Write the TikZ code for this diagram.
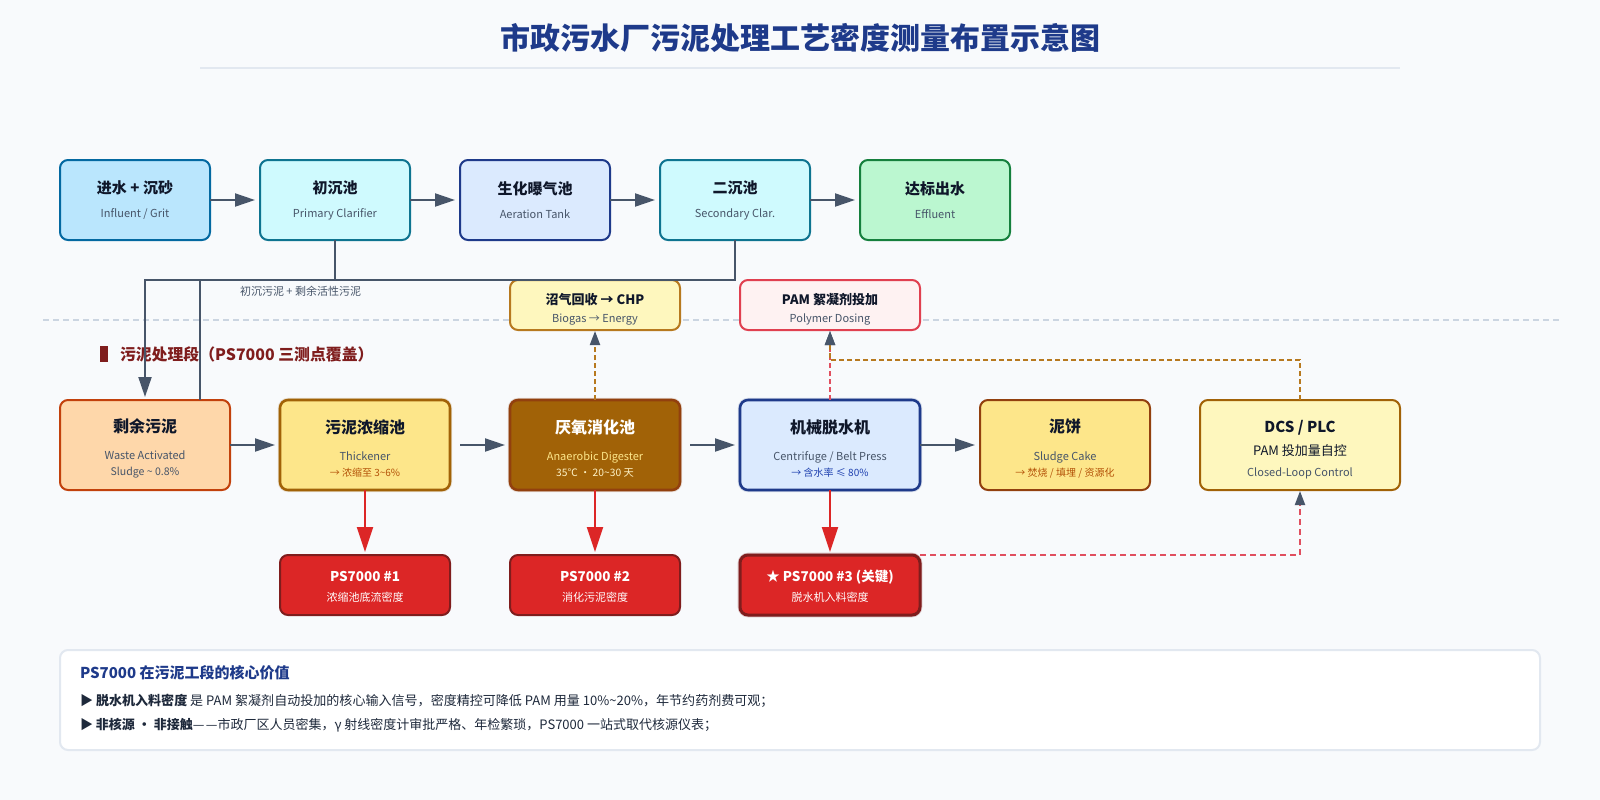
\documentclass[tikz,border=0pt]{standalone}
\usepackage{fontspec}
\setmainfont{Noto Sans CJK SC}
\usetikzlibrary{arrows.meta}
\definecolor{bgc}{HTML}{F8FAFC}
\definecolor{slate}{HTML}{475569}
\definecolor{ink}{HTML}{0F172A}
\definecolor{navy}{HTML}{1E3A8A}
\definecolor{rulec}{HTML}{E2E8F0}
\definecolor{sepc}{HTML}{CBD5E1}
\definecolor{redc}{HTML}{DC2626}
\definecolor{dred}{HTML}{7F1D1D}
\definecolor{redd}{HTML}{E04F5F}
\definecolor{orgd}{HTML}{B7791F}
\definecolor{body}{HTML}{1E293B}
\definecolor{skyF}{HTML}{BAE6FD}
\definecolor{skyD}{HTML}{0369A1}
\definecolor{cyanF}{HTML}{CFFAFE}
\definecolor{cyanD}{HTML}{0E7490}
\definecolor{blueF}{HTML}{DBEAFE}
\definecolor{greenF}{HTML}{BBF7D0}
\definecolor{greenD}{HTML}{15803D}
\definecolor{yelF}{HTML}{FEF7BE}
\definecolor{pinkF}{HTML}{FEF2F2}
\definecolor{pinkD}{HTML}{E04050}
\definecolor{orF}{HTML}{FED7AA}
\definecolor{orD}{HTML}{C2410C}
\definecolor{amF}{HTML}{FDE68A}
\definecolor{amD}{HTML}{A16207}
\definecolor{brD}{HTML}{92400E}
\newcommand\fzT{\fontsize{11.25pt}{19.5pt}\selectfont\bfseries\color{ink}}
\newcommand\fzB{\fontsize{12pt}{20.25pt}\selectfont\bfseries\color{ink}\rule{0pt}{15.5pt}}
\newcommand\fzS{\fontsize{8.25pt}{15pt}\selectfont\color{slate}}
\newcommand\fzX{\fontsize{7.9pt}{14pt}\selectfont}
\newcommand\fzY{\fontsize{7.5pt}{14pt}\selectfont}
\newcommand\fzC{\fontsize{9.75pt}{15pt}\selectfont\bfseries\color{ink}\rule{0pt}{14.6pt}}
\newcommand\fzP{\fontsize{10.1pt}{15pt}\selectfont\bfseries\color{white}\rule{0pt}{10pt}}
\newcommand\fzQ{\fontsize{8.25pt}{16pt}\selectfont\color{white}}
\tikzset{
 x=0.75pt,y=-0.75pt,
 box/.style={rectangle,rounded corners=6pt,line width=1.5pt,inner sep=0pt,outer sep=0pt,align=center},
 top/.style={box,minimum width=112.5pt,minimum height=60pt},
 low/.style={box,minimum width=127.5pt,minimum height=67.5pt},
 halo/.style={line width=1.9pt,preaction={draw=#1,draw opacity=.18,line width=3.2pt}},
 psbox/.style={box,minimum width=127.5pt,minimum height=45pt,fill=redc,draw=dred},
 side/.style={box,minimum width=127.5pt,minimum height=37.5pt},
 flow/.style={draw=slate,line width=1.5pt,-{Triangle[length=15pt,width=9.75pt,color=slate]}},
 meas/.style={draw=redc,line width=1.5pt,-{Triangle[length=18.75pt,width=12pt,color=redc]},shorten >=2.25pt},
 dashy/.style={line width=1.5pt,dash pattern=on 3.75pt off 2.25pt},
 dashtip/.style={dashy,-{Triangle[length=10.5pt,width=7.5pt,color=slate]}},
 pipe/.style={draw=slate,line width=1.5pt},
 txt/.style={inner sep=0pt,outer sep=0pt,anchor=base west},
}
\begin{document}
\begin{tikzpicture}
\useasboundingbox[fill=bgc] (0,0) rectangle (1600,800);
% title
\node[txt,anchor=base] (title) at (800,49) {\fontsize{22.5pt}{27pt}\selectfont\bfseries\color{navy}市政污水厂污泥处理工艺密度测量布置示意图};
\coordinate (ruleL) at (200,68);
\coordinate (ruleR) at (1400,68);
\draw[rulec,line width=1.5pt] (ruleL) -- (ruleR);
% separator
\coordinate (sepL) at (40,320);
\coordinate (sepR) at (1559,320);
\draw[sepc,line width=1.1pt,dash pattern=on 4.5pt off 3pt,dash phase=5.25pt] (sepL) -- (sepR);
% top row
\node[top,fill=skyF,draw=skyD] (inf) at (135,200) {\fzT 进水 + 沉砂\\[6pt]\fzS Influent / Grit};
\node[top,fill=cyanF,draw=cyanD] (prim) at (335,200) {\fzT 初沉池\\[6pt]\fzS Primary Clarifier};
\node[top,fill=blueF,draw=navy] (aer) at (535,200) {\fzT 生化曝气池\\[6pt]\fzS Aeration Tank};
\node[top,fill=cyanF,draw=cyanD] (sec) at (735,200) {\fzT 二沉池\\[6pt]\fzS Secondary Clar.};
\node[top,fill=greenF,draw=greenD] (eff) at (935,200) {\fzT 达标出水\\[6pt]\fzS Effluent};
% side boxes
\node[side,fill=yelF,draw=orgd] (bio) at (595,305) {\fzC 沼气回收 → CHP\\[1.5pt]\fzS Biogas → Energy};
\node[side,minimum width=135pt,fill=pinkF,draw=pinkD] (pam) at (830,305) {\fzC PAM 絮凝剂投加\\[1.5pt]\fzS Polymer Dosing};
% section head
\fill[dred] (100,346) rectangle (108,362);
\node[txt] (sect) at (120,360) {\fontsize{11.9pt}{15pt}\selectfont\bfseries\color{dred}污泥处理段（PS7000 三测点覆盖）};
% low row
\node[low,fill=orF,draw=orD] (was) at (145,445) {\fzB 剩余污泥\\[8.4pt]\fzS Waste Activated\\\fzX\color{slate} Sludge \textasciitilde{} 0.8\%};
\node[low,halo=amD,fill=amF,draw=amD] (thk) at (365,445) {\fzB 污泥浓缩池\\[8.4pt]\fzS Thickener\\\fzY\color[HTML]{B45309} → 浓缩至 3\textasciitilde 6\%};
\node[low,halo=brD,fill=amD,draw=brD] (dig) at (595,445) {\fzB\color{white} 厌氧消化池\\[8.4pt]\fzS\color[HTML]{FDE68A} Anaerobic Digester\\\fontsize{7.7pt}{14pt}\selectfont\color[HTML]{FEF3C7} 35℃ ・ 20\textasciitilde 30 天};
\node[low,halo=navy,minimum width=135pt,fill=blueF,draw=navy] (dew) at (830,445) {\fzB 机械脱水机\\[8.4pt]\fzS Centrifuge / Belt Press\\\fzY\color[HTML]{1E40AF} → 含水率 ≤ 80\%};
\node[low,fill=amF,draw=brD] (cake) at (1065,445) {\fzB 泥饼\\[8.4pt]\fzS Sludge Cake\\\fzY\color[HTML]{B45309} → 焚烧 / 填埋 / 资源化};
\node[low,minimum width=150pt,fill=yelF,draw=amD] (dcs) at (1300,445) {\fontsize{11.25pt}{20.25pt}\selectfont\bfseries\color{ink}\rule{0pt}{16.5pt}DCS / PLC\\[5.4pt]\fontsize{9.75pt}{17pt}\selectfont\color{ink} PAM 投加量自控\\[3.8pt]\fzS Closed-Loop Control};
% PS boxes
\node[psbox] (ps1) at (365,585) {\fzP PS7000 \#1\\[3pt]\fzQ 浓缩池底流密度};
\node[psbox] (ps2) at (595,585) {\fzP PS7000 \#2\\[3pt]\fzQ 消化污泥密度};
\node[psbox,minimum width=135pt,line width=2.25pt,preaction={draw=dred,draw opacity=.25,line width=3.4pt}] (ps3) at (830,585) {\fzP ★ PS7000 \#3 (关键)\\[3pt]\fzQ 脱水机入料密度};
% top row arrows
\draw[flow,shorten >=3.75pt] (inf) -- (prim);
\draw[flow,shorten >=3.75pt] (prim) -- (aer);
\draw[flow,shorten >=3.75pt] (aer) -- (sec);
\draw[flow,shorten >=3.75pt] (sec) -- (eff);
% low row arrows
\draw[flow,shorten >=3.75pt] (was) -- (thk);
\draw[flow,shorten <=7.5pt,shorten >=3.75pt] (thk) -- (dig);
\draw[flow,shorten <=7.5pt,shorten >=3.75pt] (dig) -- (dew);
\draw[flow,shorten >=3.75pt] (dew) -- (cake);
% measuring arrows
\draw[meas] (thk) -- (ps1);
\draw[meas] (dig) -- (ps2);
\draw[meas] (dew) -- (ps3);
% sludge pipes
\coordinate (pipeA) at (145,280);
\coordinate (pipeB) at (200,280);
\coordinate (pipeBend) at (200,400);
\coordinate (pipeS) at (735,280);
\draw[flow,shorten >=2.25pt] (prim.south) |- (pipeA) -- (was.north);
\draw[pipe] (sec.south) -- (pipeS) -- (pipeB) -- (pipeBend);
\node[txt] (pipelab) at (240,295) {\fontsize{8.25pt}{10pt}\selectfont\color{slate}初沉污泥 + 剩余活性污泥};
% dashed
\draw[dashtip,draw=orgd,shorten >=0.75pt] (dig.north) -- (bio.south);
\draw[dashtip,draw=redd,shorten >=0.75pt] (dew.north) -- (pam.south);
\coordinate (ctlA) at (1300,360);
\coordinate (ctlB) at (830,360);
\draw[dashtip,draw=orgd,shorten >=0.75pt] (dcs.north) -- (ctlA) -- (ctlB) -- (pam.south);
\coordinate (fbA) at (1300,555);
\draw[dashtip,draw=redd,dash pattern=on 4.5pt off 3pt,shorten >=0.75pt] (ps3.north east) -- (fbA) -- (dcs.south);
% panel
\draw[fill=white,draw=rulec,line width=1.5pt,rounded corners=6pt] (60,650) rectangle (1540,750);
\node[txt] (pt) at (80,678) {\fontsize{11.25pt}{14pt}\selectfont\bfseries\color{navy}PS7000 在污泥工段的核心价值};
\node[txt] (p1) at (80,705) {\fontsize{9.78pt}{12pt}\selectfont\color{body}\textbf{▶ 脱水机入料密度} 是 PAM 絮凝剂自动投加的核心输入信号，密度精控可降低 PAM 用量 10\%\textasciitilde 20\%，年节约药剂费可观；};
\node[txt] (p2) at (80,729) {\fontsize{9.75pt}{12pt}\selectfont\color{body}\textbf{▶ 非核源 ・ 非接触}—\kern1pt—市政厂区人员密集，γ 射线密度计审批严格、年检繁琐，PS7000 一站式取代核源仪表；};
\end{tikzpicture}
\end{document}
